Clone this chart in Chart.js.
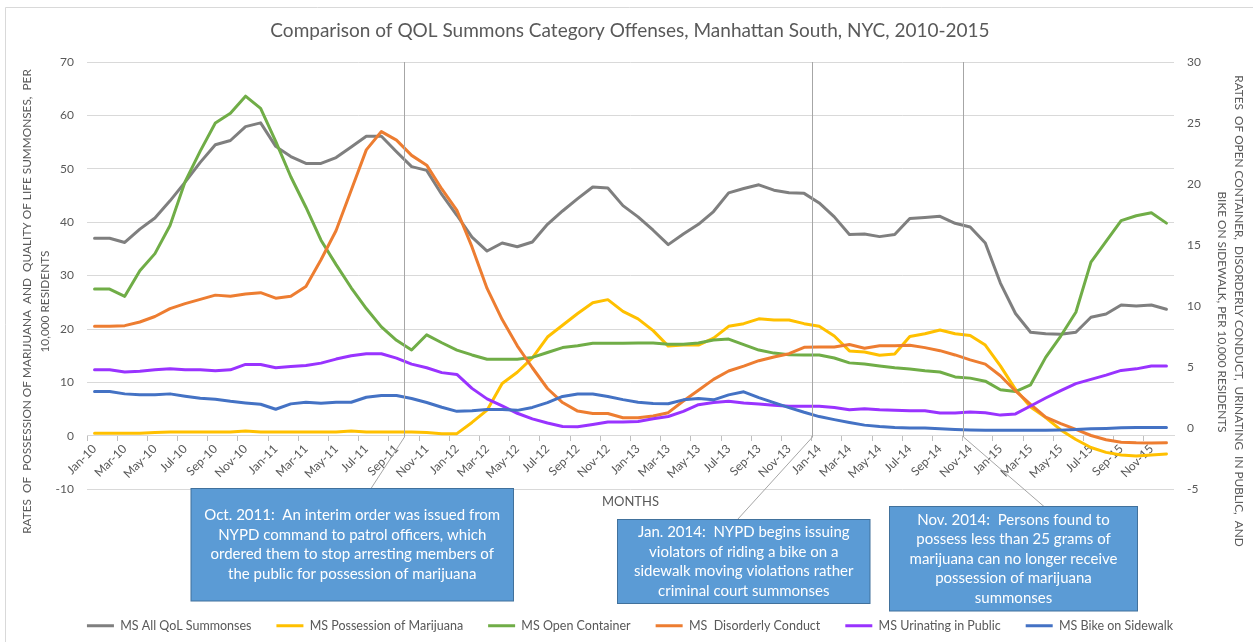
<!DOCTYPE html>
<html><head><meta charset="utf-8">
<script src="https://cdn.jsdelivr.net/npm/chart.js@4.4.1/dist/chart.umd.min.js"></script>
<style>html,body{margin:0;padding:0;background:#fff;overflow:hidden}#wrap{width:1253px;height:642px;position:relative;background:#fff}</style>
</head><body><div id="wrap"><canvas id="c" width="1253" height="642"></canvas></div>
<script>
// ---- categories ----
const MONTH_NAMES = ['Jan','Feb','Mar','Apr','May','Jun','Jul','Aug','Sep','Oct','Nov','Dec'];
const YEARS = ['10','11','12','13','14','15'];
const categories = YEARS.flatMap(y => MONTH_NAMES.map(m => m + '-' + y));

// ---- series (left axis) ----
const allQolSummonses = [37.0,37.0,36.2,38.7,40.8,44.0,47.5,51.2,54.5,55.3,57.9,58.6,
 54.2,52.3,51.0,51.0,52.1,54.1,56.1,56.1,53.2,50.4,49.7,45.2,
 41.3,37.2,34.6,36.1,35.4,36.3,39.6,42.1,44.4,46.6,46.4,43.1,
 41.0,38.5,35.8,37.8,39.6,42.0,45.5,46.3,47.0,46.0,45.5,45.4,
 43.6,41.0,37.7,37.8,37.3,37.7,40.7,40.9,41.1,39.8,39.1,36.1,
 28.6,22.9,19.4,19.1,19.0,19.4,22.2,22.8,24.5,24.3,24.5,23.7];
const possessionMarijuana = [0.5,0.5,0.5,0.5,0.6,0.7,0.7,0.7,0.7,0.7,0.9,0.7,
 0.7,0.7,0.7,0.7,0.7,0.9,0.7,0.7,0.7,0.7,0.6,0.4,
 0.4,2.5,4.8,9.8,11.9,14.6,18.5,20.7,22.9,24.9,25.5,23.3,
 21.9,19.7,16.8,17.0,17.0,18.3,20.5,21.0,21.9,21.7,21.7,21.0,
 20.5,18.7,15.9,15.7,15.1,15.3,18.6,19.1,19.8,19.1,18.8,17.0,
 13.1,8.7,5.4,3.4,1.1,-0.7,-2.2,-3.1,-3.6,-3.8,-3.6,-3.4];
// ---- series (right axis) ----
const openContainer = [11.4,11.4,10.8,12.9,14.3,16.6,20.2,22.7,25.0,25.8,27.2,26.2,
 23.5,20.6,18.1,15.4,13.4,11.5,9.8,8.3,7.2,6.4,7.65,7.0,
 6.4,6.0,5.65,5.65,5.65,5.8,6.2,6.6,6.75,6.95,6.95,6.95,
 6.97,6.97,6.88,6.88,6.98,7.22,7.3,6.85,6.4,6.15,6.02,6.0,
 6.0,5.75,5.35,5.25,5.1,4.95,4.85,4.7,4.6,4.2,4.1,3.85,
 3.15,3.0,3.55,5.8,7.55,9.5,13.6,15.3,17.0,17.4,17.65,16.8];
const disorderlyConduct = [8.35,8.35,8.4,8.7,9.15,9.8,10.2,10.55,10.9,10.8,11.0,11.1,
 10.65,10.8,11.6,13.8,16.2,19.5,22.8,24.3,23.6,22.35,21.55,19.6,
 17.85,14.85,11.45,8.9,6.75,4.95,3.25,2.1,1.4,1.2,1.2,0.85,
 0.85,1.0,1.27,2.23,3.1,4.0,4.68,5.08,5.53,5.83,6.1,6.62,
 6.65,6.65,6.85,6.55,6.75,6.75,6.8,6.6,6.35,6.0,5.6,5.25,
 4.3,3.05,1.95,0.9,0.38,-0.1,-0.6,-0.95,-1.15,-1.2,-1.22,-1.2];
const urinatingInPublic = [4.78,4.78,4.6,4.67,4.78,4.86,4.78,4.78,4.7,4.78,5.22,5.22,
 4.95,5.05,5.14,5.33,5.66,5.93,6.1,6.1,5.74,5.25,4.95,4.55,
 4.4,3.26,2.4,1.82,1.22,0.76,0.42,0.14,0.12,0.3,0.5,0.51,
 0.55,0.77,0.96,1.37,1.92,2.1,2.2,2.06,1.98,1.87,1.79,1.79,
 1.79,1.7,1.51,1.6,1.51,1.46,1.43,1.43,1.24,1.24,1.32,1.27,
 1.07,1.17,1.82,2.47,3.08,3.65,4.0,4.35,4.73,4.86,5.1,5.1];
const bikeOnSidewalk = [3.0,3.0,2.81,2.73,2.73,2.81,2.62,2.45,2.37,2.2,2.07,1.96,
 1.55,1.99,2.12,2.04,2.12,2.12,2.53,2.67,2.67,2.43,2.1,1.71,
 1.38,1.43,1.52,1.52,1.46,1.7,2.09,2.6,2.8,2.8,2.6,2.34,
 2.13,2.03,2.0,2.32,2.43,2.32,2.73,2.98,2.5,2.09,1.68,1.3,
 0.95,0.7,0.47,0.25,0.14,0.06,0.02,0.02,-0.05,-0.1,-0.14,-0.18,
 -0.18,-0.18,-0.18,-0.18,-0.16,-0.1,-0.05,-0.02,0.03,0.05,0.05,0.05];

// ---- tick settings ----
const leftTicks = {min: -10, max: 70, step: 10};
const rightTicks = {min: -5, max: 30, step: 5};

const seriesNames = ['MS All QoL Summonses','MS Possession of Marijuana','MS Open Container','MS  Disorderly Conduct','MS Urinating in Public','MS Bike on Sidewalk'];
const seriesColors = ['#7F7F7F','#FFC000','#70AD47','#ED7D31','#9933FF','#4472C4'];
const seriesData = [allQolSummonses, possessionMarijuana, openContainer, disorderlyConduct, urinatingInPublic, bikeOnSidewalk];
const seriesAxis = ['yL','yL','yR','yR','yR','yR'];

const chartTitle = 'Comparison of QOL Summons Category Offenses, Manhattan South, NYC, 2010-2015';
const leftTitle = ['RATES  OF  POSSESSION OF MARIJUANA  AND  QUALITY OF LIFE SUMMONSES,  PER', '10,000 RESIDENTS'];
const rightTitle = ['RATES  OF OPEN CONTAINER,  DISORDERLY CONDUCT,  URINATING  IN PUBLIC,  AND', 'BIKE ON SIDEWALK, PER 10,000 RESIDENTS'];
const callouts = [
  {at: 20.5, lines: ['Oct. 2011:  An interim order was issued from','NYPD command to patrol officers, which','ordered them to stop arresting members of','the public for possession of marijuana'],
   box: [191, 488.5, 322.5, 112.5], tip: [371, 488.5]},
  {at: 47.5, lines: ['Jan. 2014:  NYPD begins issuing','violators of riding a bike on a','sidewalk moving violations rather','criminal court summonses'],
   box: [617.5, 519.5, 252.5, 84], tip: [737.5, 519.5]},
  {at: 57.5, lines: ['Nov. 2014:  Persons found to','possess less than 25 grams of','marijuana can no longer receive','possession of marijuana','summonses'],
   box: [889.5, 506.5, 248, 104.5], tip: [1044, 506.5]}
];

const FONT = 'Lato, "Liberation Sans", sans-serif';
Chart.defaults.font.family = FONT;
Chart.defaults.color = '#595959';

const decor = {
  id: 'decor',
  beforeDraw(chart) {
    const c = chart.ctx;
    c.save();
    c.fillStyle = '#fff'; c.fillRect(0,0,chart.width,chart.height);
    c.strokeStyle = '#d9d9d9'; c.lineWidth = 1;
    c.beginPath(); c.moveTo(5.5, 642); c.lineTo(5.5, 7.5); c.lineTo(1253, 7.5); c.stroke();
    c.restore();
  },
  afterDraw(chart) {
    const c = chart.ctx;
    const xs = chart.scales.x;
    const top = chart.chartArea.top;
    c.save();
    // axis titles
    c.fillStyle = '#595959';
    c.font = '11.8px ' + FONT;
    c.textAlign = 'center'; c.textBaseline = 'middle';
    const rot = (txt, x, y, a) => { c.save(); c.translate(x, y); c.rotate(a); c.fillText(txt, 0, 0); c.restore(); };
    rot(leftTitle[0], 27.5, 301.5, -Math.PI/2);
    rot(leftTitle[1], 45, 301.5, -Math.PI/2);
    rot(rightTitle[0], 1239, 311, Math.PI/2);
    rot(rightTitle[1], 1222, 312, Math.PI/2);
    // connectors
    c.strokeStyle = '#a6a6a6'; c.lineWidth = 1;
    callouts.forEach(co => {
      const px = Math.round(xs.getPixelForValue(co.at)) + 0.5;
      c.beginPath(); c.moveTo(px, top); c.lineTo(px, 437); c.lineTo(co.tip[0], co.tip[1]); c.stroke();
    });
    // boxes
    callouts.forEach(co => {
      const [bx, by, bw, bh] = co.box;
      c.fillStyle = '#5B9BD5'; c.fillRect(bx, by, bw, bh);
      c.strokeStyle = '#41719C'; c.lineWidth = 1; c.strokeRect(bx, by, bw, bh);
      c.fillStyle = '#ffffff'; c.font = '15px ' + FONT;
      const lh = 19.5;
      const cy = by + bh/2 - (co.lines.length - 1) * lh / 2;
      co.lines.forEach((t, i) => c.fillText(t, bx + bw/2, cy + i*lh));
    });
    c.restore();
  }
};

new Chart(document.getElementById('c'), {
  type: 'line',
  data: {
    labels: categories,
    datasets: seriesData.map((d, i) => ({
      label: seriesNames[i], data: d, borderColor: seriesColors[i], backgroundColor: seriesColors[i],
      borderWidth: 3, pointRadius: 0, pointHoverRadius: 0, tension: 0, fill: false,
      borderJoinStyle: 'round', borderCapStyle: 'round',
      xAxisID: 'x', yAxisID: seriesAxis[i], order: 6 - i
    }))
  },
  options: {
    responsive: false, animation: false, devicePixelRatio: 1,
    layout: {padding: {top: 0, left: 7, right: 0, bottom: 0}},
    plugins: {
      title: {display: true, text: chartTitle, color: '#595959', font: {size: 19, weight: 'normal', lineHeight: 1.2}, padding: {top: 19.4, bottom: 19.8}},
      legend: {position: 'bottom', labels: {boxWidth: 27, boxHeight: 3, padding: 25, color: '#595959', font: {size: 12.5},
        generateLabels: (ch) => Chart.defaults.plugins.legend.labels.generateLabels(ch).map(l => Object.assign(l, {lineWidth: 0})),
        sort: (a, b) => a.datasetIndex - b.datasetIndex}},
      tooltip: {enabled: false}
    },
    scales: {
      x: {type: 'category', position: {yL: 0}, offset: true,
        grid: {display: true, offset: true, drawOnChartArea: false, drawTicks: true, tickLength: 5, color: 'rgba(0,0,0,0)',
          tickColor: (ctx) => ctx.index % 2 === 0 ? '#bfbfbf' : 'rgba(0,0,0,0)'},
        border: {display: true, color: '#d9d9d9', width: 1},
        ticks: {autoSkip: false, minRotation: 45, maxRotation: 45, padding: 1, color: '#595959', font: {size: 12},
          callback: function(v, i) { return i % 2 === 0 ? this.getLabelForValue(v) : ''; }},
        title: {display: true, text: 'MONTHS', color: '#595959', font: {size: 13}, padding: {top: 4, bottom: 4}},
        afterFit: (s) => { s.height = 78; }
      },
      xPad: {type: 'category', position: 'bottom', display: true, grid: {display: false, drawTicks: false}, border: {display: false},
        ticks: {display: false}, afterFit: (s) => { s.height = 105.3; }},
      yL: {type: 'linear', position: 'left', min: leftTicks.min, max: leftTicks.max,
        ticks: {stepSize: leftTicks.step, padding: 13, color: '#595959', font: {size: 12}},
        grid: {color: '#d9d9d9', drawTicks: false}, border: {display: false},
        afterFit: (s) => { s.width = 80; }},
      yR: {type: 'linear', position: 'right', min: rightTicks.min, max: rightTicks.max,
        ticks: {stepSize: rightTicks.step, padding: 13, color: '#595959', font: {size: 12}},
        grid: {display: false, drawTicks: false}, border: {display: false},
        afterFit: (s) => { s.width = 79; }}
    }
  },
  plugins: [decor]
});
</script></body></html>
